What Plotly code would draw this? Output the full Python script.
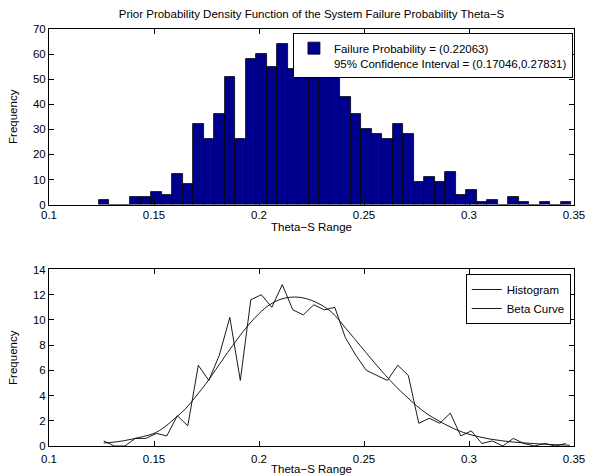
import plotly.graph_objects as go

# ---- data ----
bin_centers = [0.1261, 0.1311, 0.1361, 0.1411, 0.1461, 0.1511, 0.1561, 0.1611, 0.1661,
               0.1711, 0.1761, 0.1811, 0.1861, 0.1911, 0.1961, 0.2011, 0.2061, 0.2111,
               0.2161, 0.2211, 0.2261, 0.2311, 0.2361, 0.2411, 0.2461, 0.2511, 0.2561,
               0.2611, 0.2661, 0.2711, 0.2761, 0.2811, 0.2861, 0.2911, 0.2961, 0.3011,
               0.3061, 0.3111, 0.3161, 0.3211, 0.3261, 0.3311, 0.3361, 0.3411, 0.3461]
bin_width = 0.005
counts = [2, 0, 0, 3, 3, 5, 4, 12, 8,
          32, 26, 36, 51, 26, 58, 60, 55, 64,
          54, 52, 56, 54, 55, 43, 36, 30, 28,
          26, 32, 28, 9, 11, 9, 13, 4, 6,
          1, 2, 0, 3, 1, 0, 1, 0, 1]

beta_x = [0.126, 0.13, 0.135, 0.14, 0.145, 0.15, 0.155, 0.16, 0.165, 0.17, 0.175,
          0.18, 0.185, 0.19, 0.195, 0.2, 0.205, 0.21, 0.215, 0.22, 0.225, 0.23,
          0.235, 0.24, 0.245, 0.25, 0.255, 0.26, 0.265, 0.27, 0.275, 0.28, 0.285,
          0.29, 0.295, 0.3, 0.305, 0.31, 0.315, 0.32, 0.325, 0.33, 0.335, 0.34,
          0.345, 0.348]
beta_y = [0.24, 0.29, 0.40, 0.56, 0.76, 1.0, 1.5, 2.2, 2.95, 3.95, 5.0,
          6.2, 7.4, 8.55, 9.6, 10.5, 11.2, 11.62, 11.8, 11.78, 11.55, 11.15,
          10.55, 9.6, 8.6, 7.6, 6.6, 5.65, 4.75, 3.95, 3.2, 2.55, 2.05,
          1.6, 1.22, 0.93, 0.72, 0.55, 0.43, 0.33, 0.26, 0.2, 0.15, 0.11,
          0.08, 0.06]

x_ticks = [0.1, 0.15, 0.2, 0.25, 0.3, 0.35]
x_ticktext = ["0.1", "0.15", "0.2", "0.25", "0.3", "0.35"]
y1_ticks = [0, 10, 20, 30, 40, 50, 60, 70]
y2_ticks = [0, 2, 4, 6, 8, 10, 12, 14]

title_text = "Prior Probability Density Function of the System Failure Probability Theta\u2212S"
xlabel = "Theta\u2212S Range"
ylabel = "Frequency"
legend1_text = "Failure Probability = (0.22063)<br>95% Confidence Interval = (0.17046,0.27831)"

n_total = sum(counts)
hist_density = [c / (n_total * bin_width) for c in counts]

FONT = "Liberation Sans, Arial, Helvetica, sans-serif"

fig = go.Figure()
fig.add_trace(go.Bar(
    x=bin_centers, y=counts, width=bin_width,
    marker=dict(color="#00008F", line=dict(color="black", width=0.8)),
    name=legend1_text, xaxis="x", yaxis="y", legend="legend",
))
fig.add_trace(go.Scatter(
    x=bin_centers, y=hist_density, mode="lines",
    line=dict(color="black", width=0.9),
    name="Histogram", xaxis="x2", yaxis="y2", legend="legend2",
))
fig.add_trace(go.Scatter(
    x=beta_x, y=beta_y, mode="lines", line_shape="spline",
    line=dict(color="black", width=0.9),
    name="Beta Curve", xaxis="x2", yaxis="y2", legend="legend2",
))

axis_common = dict(
    showline=True, linecolor="black", linewidth=1, mirror="ticks",
    ticks="inside", ticklen=5, tickcolor="black", tickwidth=1,
    showgrid=False, zeroline=False, automargin=False,
    tickfont=dict(family=FONT, size=11.5, color="black"),
)

fig.update_layout(
    width=596, height=475,
    margin=dict(l=49, r=22, t=29, b=29),
    paper_bgcolor="white", plot_bgcolor="white",
    font=dict(family=FONT, size=11.5, color="black"),
    title=dict(text=title_text, x=0.5, xref="paper", xanchor="center",
               y=1 - 14 / 475, yanchor="middle",
               font=dict(family=FONT, size=11.5, color="black")),
    bargap=0,
    xaxis=dict(domain=[0, 1], anchor="y", range=[0.1, 0.35],
               tickvals=x_ticks, ticktext=x_ticktext,
               title=dict(text=xlabel, standoff=2, font=dict(size=11.5)), **axis_common),
    yaxis=dict(domain=[0.579, 1], anchor="x", range=[0, 70], tickvals=y1_ticks,
               title=dict(text=ylabel, standoff=12, font=dict(size=11.5)), **axis_common),
    xaxis2=dict(domain=[0, 1], anchor="y2", range=[0.1, 0.35],
                tickvals=x_ticks, ticktext=x_ticktext, ticklabelstandoff=2,
                title=dict(text=xlabel, standoff=2, font=dict(size=11.5)), **axis_common),
    yaxis2=dict(domain=[0, 0.4233], anchor="x2", range=[0, 14], tickvals=y2_ticks,
                title=dict(text=ylabel, standoff=12, font=dict(size=11.5)), **axis_common),
    legend=dict(x=0.998, xanchor="right", y=0.99, yanchor="top",
                bgcolor="white", bordercolor="black", borderwidth=1,
                font=dict(family=FONT, size=11.5, color="black"), valign="top",
                itemwidth=30),
    legend2=dict(x=0.9937, xanchor="right", y=0.4125, yanchor="top",
                 bgcolor="white", bordercolor="black", borderwidth=1,
                 font=dict(family=FONT, size=11.5, color="black"),
                 itemwidth=30, tracegroupgap=0),
    showlegend=True,
)

fig.write_html("out.html")
